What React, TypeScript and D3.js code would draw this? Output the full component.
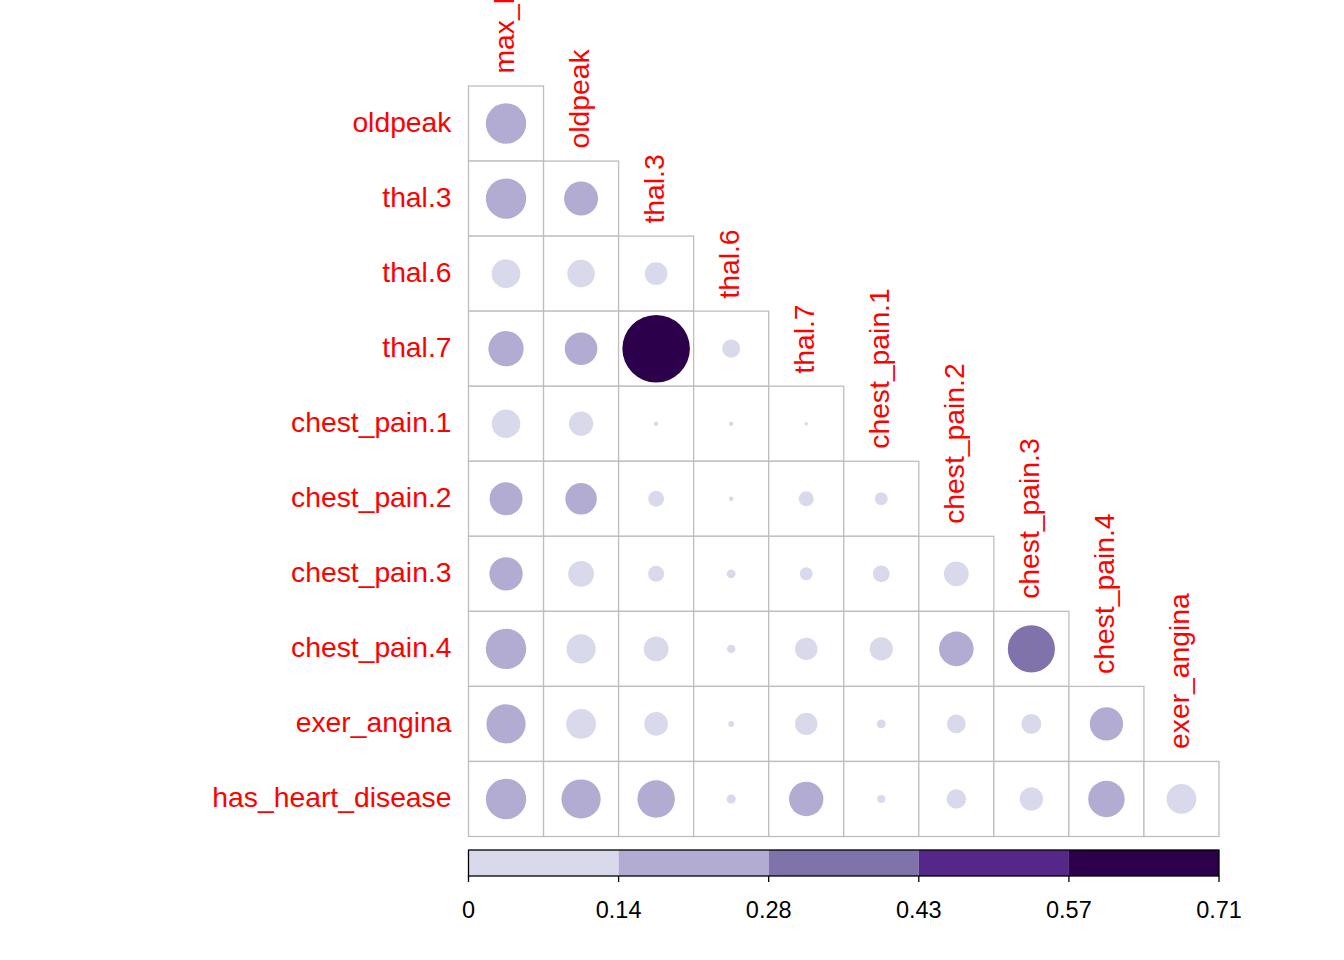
import React from "react";
import * as d3 from "d3";

const variables = [
  "max_heart_rate",
  "oldpeak",
  "thal.3",
  "thal.6",
  "thal.7",
  "chest_pain.1",
  "chest_pain.2",
  "chest_pain.3",
  "chest_pain.4",
  "exer_angina",
  "has_heart_disease",
];

// lower-triangle |correlation| values: row i (variable i+1) vs columns 0..i
const row_oldpeak = [0.254];
const row_thal3 = [0.254, 0.18];
const row_thal6 = [0.128, 0.118, 0.08];
const row_thal7 = [0.194, 0.165, 0.71, 0.051];
const row_cp1 = [0.127, 0.092, 0.003, 0.003, 0.002];
const row_cp2 = [0.169, 0.154, 0.039, 0.003, 0.035, 0.026];
const row_cp3 = [0.173, 0.104, 0.04, 0.012, 0.026, 0.044, 0.096];
const row_cp4 = [0.254, 0.132, 0.096, 0.011, 0.078, 0.084, 0.186, 0.346];
const row_exer = [0.239, 0.138, 0.087, 0.005, 0.078, 0.012, 0.055, 0.062, 0.173];
const row_hhd = [0.254, 0.239, 0.218, 0.013, 0.184, 0.01, 0.059, 0.084, 0.207, 0.138];

const rows = [row_oldpeak, row_thal3, row_thal6, row_thal7, row_cp1, row_cp2, row_cp3, row_cp4, row_exer, row_hhd];

const legendBreaks = [0, 0.14, 0.28, 0.43, 0.57, 0.71];
const legendLabels = ["0", "0.14", "0.28", "0.43", "0.57", "0.71"];
const palette = ["#D8DAEB", "#B2ABD2", "#8073AC", "#542788", "#2D004B"];

const W = 1344;
const H = 960;
const x0 = 468.5;
const y0 = 86;
const n = 10;
const cell = 75.05;

export default function App() {
  const xs = d3.scaleLinear().domain([0, n]).range([x0, x0 + n * cell]);
  const ys = d3.scaleLinear().domain([0, n]).range([y0, y0 + n * cell]);
  const rs = d3.scaleSqrt().domain([0, 0.71]).range([0, 0.45 * cell]);
  const color = d3.scaleThreshold<number, string>().domain(legendBreaks.slice(1, -1)).range(palette);
  // legend bins are equally wide
  const lx = d3.scaleLinear().domain([0, palette.length]).range([x0, x0 + n * cell]);
  const font = "'Liberation Sans', Arial, Helvetica, sans-serif";

  return (
    <svg
      width={W}
      height={H}
      style={{ position: "absolute", left: 0, top: 0, background: "#fff" }}
    >
      {rows.map((vals, i) =>
        vals.map((v, j) => (
          <rect
            key={`c${i}-${j}`}
            x={xs(j)}
            y={ys(i)}
            width={cell}
            height={cell}
            fill="white"
            stroke="#BEBEBE"
            strokeWidth={1.3}
          />
        ))
      )}
      {rows.map((vals, i) =>
        vals.map((v, j) => (
          <circle
            key={`p${i}-${j}`}
            cx={xs(j + 0.5)}
            cy={ys(i + 0.5)}
            r={rs(v)}
            fill={color(v)}
          />
        ))
      )}
      {rows.map((_, i) => (
        <text
          key={`rl${i}`}
          x={451.5}
          y={ys(i + 0.5) + 8.5}
          textAnchor="end"
          fontFamily={font}
          fontSize={28.3}
          fill="#FF0000"
        >
          {variables[i + 1]}
        </text>
      ))}
      {rows.map((_, j) => {
        const cx = xs(j + 0.5) + 8;
        const cy = ys(j) - 12.5;
        return (
          <text
            key={`cl${j}`}
            transform={`translate(${cx},${cy}) rotate(-90)`}
            textAnchor="start"
            fontFamily={font}
            fontSize={28.3}
            fill="#FF0000"
          >
            {variables[j]}
          </text>
        );
      })}
      {palette.map((c, k) => (
        <rect
          key={`lg${k}`}
          x={lx(k)}
          y={850}
          width={lx(k + 1) - lx(k)}
          height={26}
          fill={c}
        />
      ))}
      <rect x={x0} y={850} width={n * cell} height={26} fill="none" stroke="black" strokeWidth={1.3} />
      {legendBreaks.map((b, k) => (
        <g key={`lt${k}`}>
          <line x1={lx(k)} x2={lx(k)} y1={876} y2={882} stroke="black" strokeWidth={1.3} />
          <text
            x={lx(k)}
            y={918}
            textAnchor="middle"
            fontFamily={font}
            fontSize={23.5}
            fill="black"
          >
            {legendLabels[k]}
          </text>
        </g>
      ))}
    </svg>
  );
}
